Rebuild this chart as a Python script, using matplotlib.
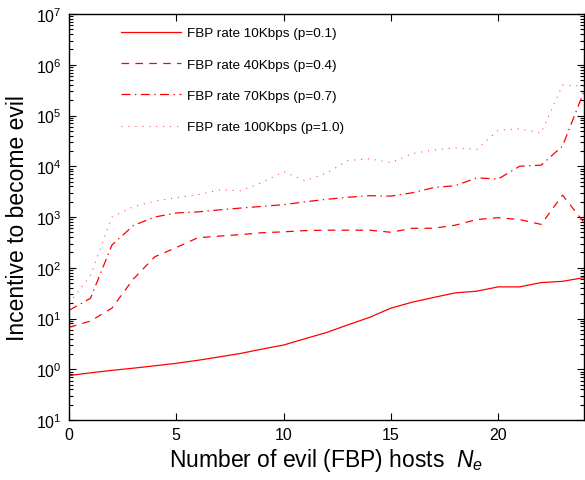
import numpy as np
import matplotlib
matplotlib.use("Agg")
import matplotlib.pyplot as plt
from matplotlib.ticker import FixedLocator, FixedFormatter, LogLocator, NullFormatter

plt.rcParams['font.family'] = ['Liberation Sans', 'DejaVu Sans']
plt.rcParams['mathtext.fontset'] = 'custom'
plt.rcParams['mathtext.rm'] = 'Liberation Sans'
plt.rcParams['mathtext.it'] = 'Liberation Sans:italic'
plt.rcParams['lines.scale_dashes'] = False

# evil hosts
n_evil = np.arange(25)

# incentive values
rate_10k = [0.75, 0.85, 0.95, 1.05, 1.17, 1.31, 1.5, 1.75, 2.05, 2.5, 3.0, 4.0, 5.3,
            7.5, 10.5, 16, 21, 26, 32, 34.5, 42, 42, 51, 54, 64]
rate_40k = [6.7, 8.9, 16, 60, 165, 250, 390, 420, 450, 490, 510, 540, 550,
            550, 550, 500, 600, 600, 690, 890, 970, 890, 715, 2700, 780]
rate_70k = [14.5, 25, 280, 680, 1000, 1200, 1260, 1380, 1500, 1620, 1750, 1990, 2230,
            2450, 2630, 2580, 3000, 3800, 4150, 5900, 5600, 10000, 10500, 25000, 300000]
rate_100k = [20, 70, 1000, 1600, 2050, 2400, 2750, 3400, 3300, 4800, 7800, 5200, 7300,
             13000, 14000, 11800, 17800, 21000, 23000, 21500, 51000, 55000, 45000, 400000, 380000]

labels = ['FBP rate 10Kbps (p=0.1)', 'FBP rate 40Kbps (p=0.4)',
          'FBP rate 70Kbps (p=0.7)', 'FBP rate 100Kbps (p=1.0)']

ytick_vals = [1e-1, 1e0, 1e1, 1e2, 1e3, 1e4, 1e5, 1e6, 1e7]
ytick_text = ['$\\mathregular{10^{1}}$', '$\\mathregular{10^{0}}$', '$\\mathregular{10^{1}}$',
              '$\\mathregular{10^{2}}$', '$\\mathregular{10^{3}}$', '$\\mathregular{10^{4}}$',
              '$\\mathregular{10^{5}}$', '$\\mathregular{10^{6}}$', '$\\mathregular{10^{7}}$']

fig = plt.figure(figsize=(5.85, 4.81), dpi=100)
ax = fig.add_axes([69/585, 60/481, 515/585, 406/481])

ax.plot(n_evil, rate_10k, color='#ff0000', lw=0.9, ls='-', label=labels[0])
ax.plot(n_evil, rate_40k, color='#ff0000', lw=0.9, ls=(0, (5.5, 4.5)), label=labels[1])
ax.plot(n_evil, rate_70k, color='#ff0000', lw=0.9, ls=(0, (6.5, 3.2, 1, 3.2)), label=labels[2])
ax.plot(n_evil, rate_100k, color='#ff5555', lw=0.8, ls=(0, (0.8, 4.2)), label=labels[3])

ax.set_yscale('log')
ax.set_xlim(0, 24)
ax.set_ylim(1e-1, 1e7)
ax.set_xticks([0, 5, 10, 15, 20])
ax.yaxis.set_major_locator(FixedLocator(ytick_vals))
ax.yaxis.set_major_formatter(FixedFormatter(ytick_text))
ax.yaxis.set_minor_locator(LogLocator(base=10, subs=np.arange(2, 10), numticks=20))
ax.yaxis.set_minor_formatter(NullFormatter())

ax.tick_params(which='both', direction='in', top=True, right=True, labelsize=11.5, width=0.8)
ax.tick_params(which='major', length=5, pad=5)
ax.tick_params(which='minor', length=3)
for s in ax.spines.values():
    s.set_linewidth(1.0)

ax.set_xlabel('Number of evil (FBP) hosts  $N_e$', fontsize=16.5, labelpad=3)
ax.set_ylabel('Incentive to become evil', fontsize=16.5, labelpad=5)

ax.legend(loc='upper left', bbox_to_anchor=(0.1, 0.968), frameon=False, fontsize=9.7,
          handlelength=4.5, handletextpad=0.45, labelspacing=1.4, borderpad=0, borderaxespad=0)

fig.savefig('out.png', dpi=100)
